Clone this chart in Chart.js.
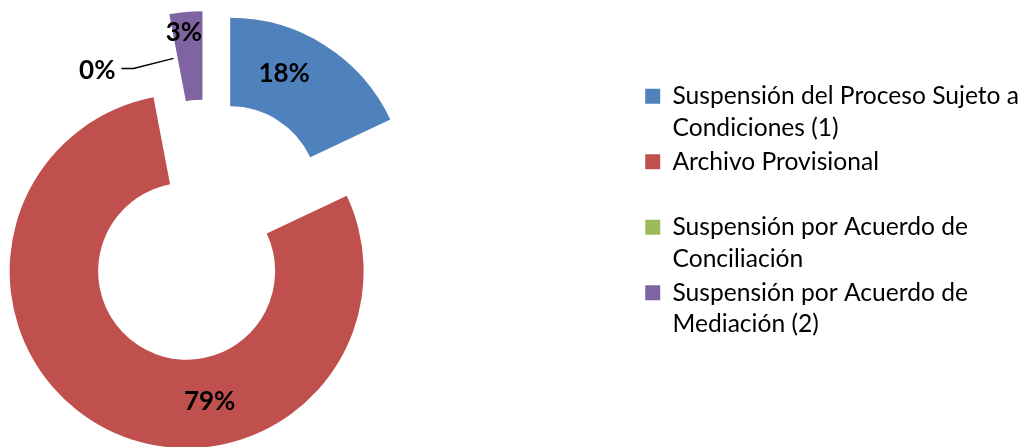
<!DOCTYPE html>
<html>
<head>
<meta charset="utf-8">
<script src="https://cdn.jsdelivr.net/npm/chart.js@4"></script>
<style>
  html, body { margin: 0; padding: 0; overflow: hidden; background: #fff; }
  /* the doughnut sits left of the chart area centre, so the canvas is widened to the left */
  #wrap { position: absolute; left: -230px; top: 0; width: 1259px; height: 447px; }
</style>
</head>
<body>
<div id="wrap"><canvas id="myChart"></canvas></div>
<script>
const categories = [
    ['Suspensión del Proceso Sujeto a', 'Condiciones (1)'],
    ['Archivo Provisional', ''],
    ['Suspensión por Acuerdo de', 'Conciliación'],
    ['Suspensión por Acuerdo de', 'Mediación (2)']
];
const percentValues = [18, 79, 0, 3];
const sliceColors = ['#4F81BD', '#C0504D', '#9BBB59', '#8064A2'];

const EXPLODE = 44;

// push every slice out along its middle angle
const explodeSlices = {
    id: 'explodeSlices',
    afterDatasetUpdate(chart, args) {
        args.meta.data.forEach(arc => {
            const mid = (arc.startAngle + arc.endAngle) / 2;
            arc.x += Math.cos(mid) * EXPLODE;
            arc.y += Math.sin(mid) * EXPLODE;
        });
    }
};

const sliceLabels = {
    id: 'sliceLabels',
    afterDatasetsDraw(chart) {
        const ctx = chart.ctx;
        const meta = chart.getDatasetMeta(0);
        ctx.save();
        ctx.font = 'bold 26px Lato';
        ctx.fillStyle = '#000';
        ctx.textBaseline = 'middle';
        meta.data.forEach((arc, i) => {
            const text = percentValues[i] + '%';
            const span = arc.endAngle - arc.startAngle;
            let r = (arc.innerRadius + arc.outerRadius) / 2;
            if (span === 0) {
                const a = arc.startAngle;
                const px = arc.x + Math.cos(a) * r;
                const py = arc.y + Math.sin(a) * r;
                ctx.strokeStyle = '#000';
                ctx.lineWidth = 1.5;
                ctx.beginPath();
                ctx.moveTo(px, py);
                ctx.lineTo(px - 40, py + 10);
                ctx.lineTo(px - 52, py + 10);
                ctx.stroke();
                ctx.textAlign = 'right';
                ctx.fillText(text, px - 58, py + 12);
                return;
            }
            if (span < Math.PI / 6) r = arc.outerRadius - 20;
            const a = arc.startAngle + span * 0.37;
            ctx.textAlign = 'center';
            ctx.fillText(text, arc.x + Math.cos(a) * r, arc.y + Math.sin(a) * r);
        });
        ctx.restore();
    }
};

const ctx = document.getElementById('myChart').getContext('2d');

const myChart = new Chart(ctx, {
    type: 'doughnut',
    data: {
        labels: categories,
        datasets: [{
            data: percentValues,
            backgroundColor: sliceColors,
            borderWidth: 0,
            clip: false
        }]
    },
    options: {
        responsive: true,
        maintainAspectRatio: false,
        animation: false,
        events: [],
        radius: 177,
        cutout: '50%',
        layout: {
            padding: { top: 82, bottom: 65, left: 0, right: 0 }
        },
        plugins: {
            tooltip: { enabled: false },
            legend: {
                position: 'right',
                align: 'start',
                labels: {
                    boxWidth: 15,
                    boxHeight: 15,
                    padding: 2,
                    color: '#000',
                    font: { family: 'Lato', size: 24.6, lineHeight: 1.29 }
                }
            }
        }
    },
    plugins: [explodeSlices, sliceLabels]
});
</script>
</body>
</html>
